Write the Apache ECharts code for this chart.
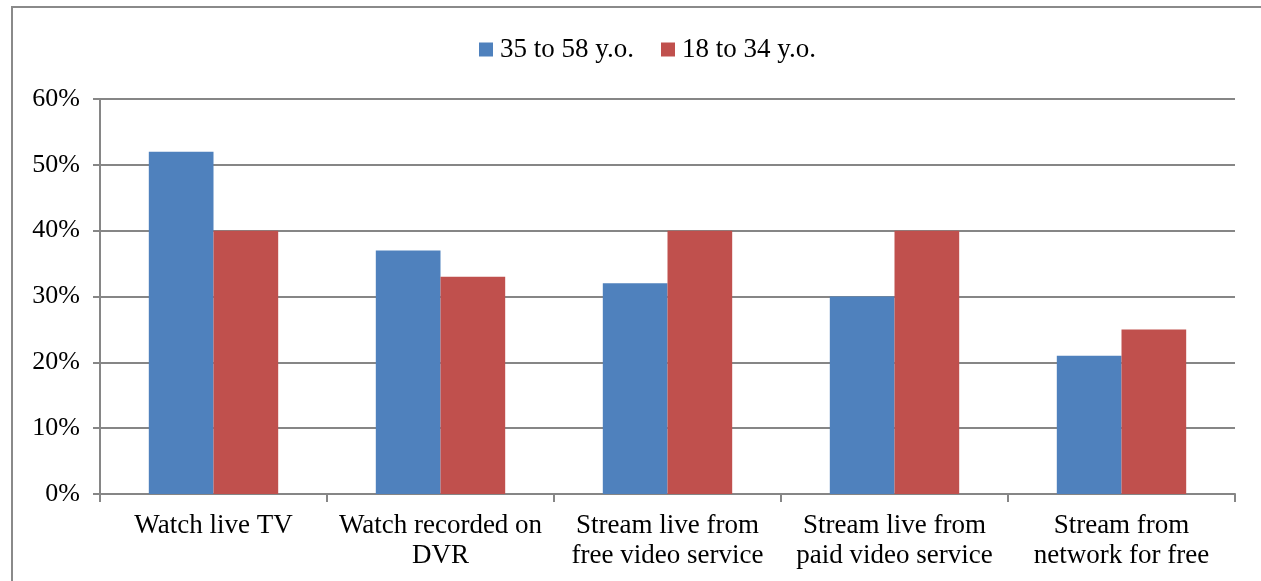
<!DOCTYPE html>
<html>
<head>
<meta charset="utf-8">
<script src="https://cdn.jsdelivr.net/npm/echarts@6/dist/echarts.min.js"></script>
<style>
html,body{margin:0;padding:0;background:#fff;}
#c{width:1261px;height:581px;}
</style>
</head>
<body>
<div id="c"></div>
<script>
const categories = ['Watch live TV', 'Watch recorded on\nDVR', 'Stream live from\nfree video service', 'Stream live from\npaid video service', 'Stream from\nnetwork for free'];
const seriesNames = ['35 to 58 y.o.', '18 to 34 y.o.'];
const older = [52, 37, 32, 30, 21];
const younger = [40, 33, 40, 40, 25];
const yTicks = [0, 10, 20, 30, 40, 50, 60];

const chart = echarts.init(document.getElementById('c'));
const font = '"Liberation Serif", "Times New Roman", serif';
chart.setOption({
  animation: false,
  textStyle: {fontFamily: font},
  graphic: [{
    type: 'rect',
    shape: {x: 12, y: 7, width: 1400, height: 700},
    style: {fill: 'none', stroke: '#8a8a8a', lineWidth: 2},
    silent: true
  }],
  legend: {
    top: 31,
    left: 474,
    itemWidth: 14,
    itemHeight: 14,
    itemGap: 27,
    icon: 'rect',
    textStyle: {fontFamily: font, fontSize: 27, color: '#000', padding: [0, 0, 0, 2]},
    data: seriesNames
  },
  grid: {left: 100, right: 26, top: 99, bottom: 87},
  xAxis: {
    type: 'category',
    data: categories,
    axisLine: {lineStyle: {color: '#868686', width: 2}},
    axisTick: {show: true, length: 8, inside: false, lineStyle: {color: '#868686', width: 2}},
    axisLabel: {fontFamily: font, fontSize: 27, color: '#000', margin: 17, lineHeight: 30, interval: 0}
  },
  yAxis: {
    type: 'value',
    min: 0, max: 60, interval: 10,
    axisLine: {show: true, lineStyle: {color: '#868686', width: 2}},
    axisTick: {show: true, length: 7, lineStyle: {color: '#868686', width: 2}},
    splitLine: {lineStyle: {color: '#868686', width: 2}},
    axisLabel: {fontFamily: font, fontSize: 26, color: '#000', margin: 20,
      formatter: v => yTicks.includes(v) ? v + '%' : ''}
  },
  series: [
    {name: seriesNames[0], type: 'bar', data: older, itemStyle: {color: '#4F81BD'}, barGap: '0%', barCategoryGap: '43%'},
    {name: seriesNames[1], type: 'bar', data: younger, itemStyle: {color: '#C0504D'}, barGap: '0%', barCategoryGap: '43%'}
  ]
});
</script>
</body>
</html>
